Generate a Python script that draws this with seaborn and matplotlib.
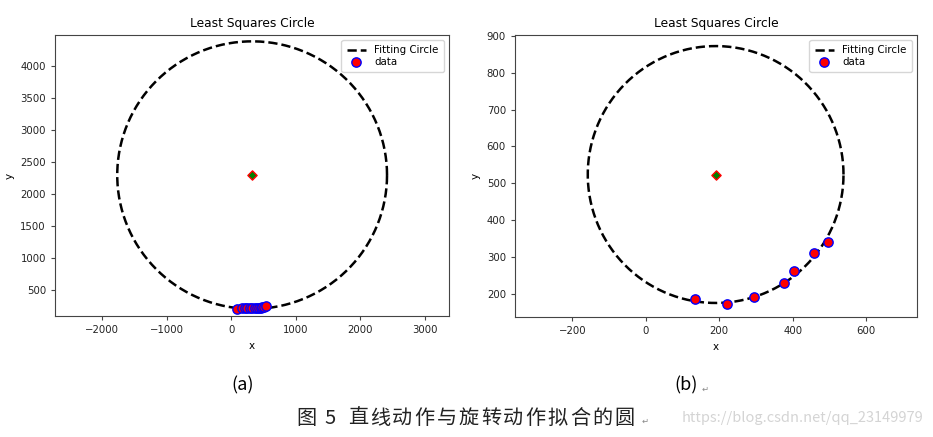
import numpy as np
import pandas as pd
import matplotlib
matplotlib.use("Agg")
import matplotlib.pyplot as plt
import seaborn as sns

# (a) straight-line motion
a_x = [95, 170, 210, 250, 290, 330, 365, 400, 430, 455, 480, 510, 545]
a_y = [205, 212, 218, 222, 215, 220, 212, 216, 220, 224, 230, 236, 250]
a_center = (325, 2295)
a_radius = 2090

# (b) rotation motion
b_x = [134, 221, 294, 375, 404, 457, 495]
b_y = [188, 172, 192, 230, 263, 312, 341]
b_center = (190, 524)
b_radius = 348

panel_labels = ["(a)", "(b)"]
caption_head = ["图", "5"]
caption_body = "直线动作与旋转动作拟合的圆"
watermark = "https://blog.csdn.net/qq_23149979"

fig = plt.figure(figsize=(9.33, 4.37), dpi=100)
W, H = 933, 437
ax1 = fig.add_axes([55 / W, (H - 316) / H, 394 / W, 281 / H])
ax2 = fig.add_axes([515 / W, (H - 317) / H, 402 / W, 282 / H])


def draw(ax, xs, ys, center, radius, xlim, ylim):
    t = np.linspace(0, 2 * np.pi, 400)
    ax.plot(center[0] + radius * np.cos(t), center[1] + radius * np.sin(t),
            color="black", ls="--", lw=1.8, label="Fitting Circle")
    df = pd.DataFrame({"x": xs, "y": ys})
    sns.scatterplot(data=df, x="x", y="y", ax=ax, color="red", edgecolor="blue",
                    linewidth=1, s=45, label="data", zorder=3)
    ax.scatter([center[0]], [center[1]], marker="D", s=22, color="green",
               edgecolor="red", linewidth=1, zorder=4)
    ax.set_xlim(*xlim)
    ax.set_ylim(*ylim)
    ax.set_title("Least Squares Circle", fontsize=8.8)
    ax.set_xlabel("x", fontsize=7.5)
    ax.set_ylabel("y", fontsize=7.5)
    ax.tick_params(labelsize=7.3, length=3, color="#444444", labelcolor="#222222")
    for s in ax.spines.values():
        s.set_color("#444444")
    ax.legend(loc="upper right", fontsize=7.4, handlelength=1.9, borderpad=0.5,
              labelspacing=0.15)


draw(ax1, a_x, a_y, a_center, a_radius, (-2729, 3375), (94, 4484))
draw(ax2, b_x, b_y, b_center, b_radius, (-356, 738), (138, 902))
ax1.set_yticks([500, 1000, 1500, 2000, 2500, 3000, 3500, 4000])

fam = ["Noto Sans CJK SC", "DejaVu Sans"]
fig.text(243 / W, 1 - 385 / H, panel_labels[0], ha="center", va="center",
         fontsize=13, family=fam)
fig.text(686 / W, 1 - 385 / H, panel_labels[1], ha="center", va="center",
         fontsize=13, family=fam)
fig.text(705 / W, 1 - 389 / H, "↵", ha="center", va="center", fontsize=6,
         color="#888888", family=fam)

# caption, spread out like the Word document it came from
for ch, cx in zip(caption_head, [306, 330]):
    fig.text(cx / W, 1 - 418 / H, ch, ha="center", va="center",
             fontsize=14.5, family=fam, color="#222222")
for i, ch in enumerate(caption_body):
    fig.text((358 + 22.2 * i) / W, 1 - 418 / H, ch, ha="center", va="center",
             fontsize=14.5, family=fam, color="#222222")
fig.text(645 / W, 1 - 421 / H, "↵", ha="center", va="center", fontsize=6,
         color="#888888", family=fam)
fig.text(923 / W, 1 - 418 / H, watermark, ha="right", va="center",
         fontsize=10.5, family=fam, color="#d4d4d4")

fig.savefig("out.png", dpi=100)
